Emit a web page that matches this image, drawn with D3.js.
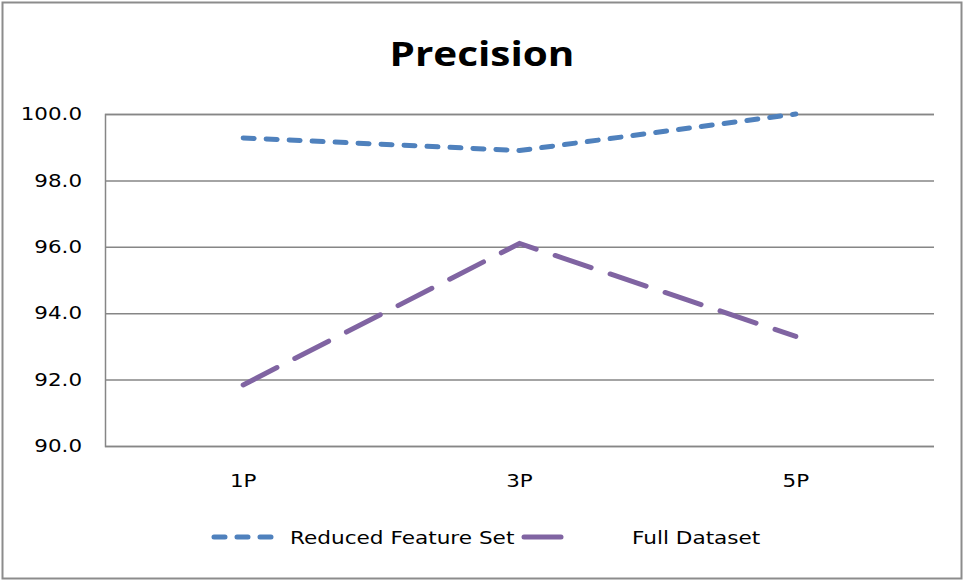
<!DOCTYPE html>
<html><head><meta charset="utf-8">
<script src="https://cdn.jsdelivr.net/npm/d3@7"></script>
<style>body{margin:0;background:#fff}svg{display:block}</style>
</head><body>
<svg id="c" width="964" height="581"></svg>
<script>
const categories = ["1P", "3P", "5P"];
const reducedFeatureSet = [99.28, 98.9, 100.0];
const fullDataset = [91.84, 96.1, 93.3];
const yTicks = [90, 92, 94, 96, 98, 100];
const seriesNames = ["Reduced Feature Set", "Full Dataset"];

const svg = d3.select("#c");
const W = 964, H = 581;
svg.append("rect").attr("x", 2.5).attr("y", 2.5).attr("width", W - 5).attr("height", H - 5)
  .attr("fill", "#fff").attr("stroke", "#8c8c8c").attr("stroke-width", 2);

const L = 105, R = 934, T = 114, B = 446;
const x = d3.scaleBand().domain(categories).range([L, R]);
const y = d3.scaleLinear().domain([90, 100]).range([B, T]);
const font = "'DejaVu Sans', Verdana, sans-serif";

// horizontally stretch text glyphs around their anchor
function widen(sel, k) {
  sel.each(function () {
    const t = d3.select(this);
    const x0 = +(t.attr("x") || 0);
    t.attr("x", x0 / k).attr("transform", `scale(${k},1)`);
  });
}

const title = svg.append("text").attr("x", 482).attr("y", 66).attr("text-anchor", "middle")
  .attr("font-family", "'Open Sans', sans-serif").attr("font-weight", "bold").attr("font-size", 34)
  .attr("fill", "#000").text("Precision");
widen(title, 1.19);

const yAxis = d3.axisLeft(y).tickValues(yTicks).tickFormat(d3.format(".1f")).tickSize(-(R - L)).tickPadding(23);
const gy = svg.append("g").attr("transform", `translate(${L},0)`).call(yAxis);
gy.select(".domain").attr("stroke", "#868686").attr("stroke-width", 1.5);
gy.selectAll(".tick line").attr("stroke", "#868686").attr("stroke-width", 1.5);
gy.selectAll(".tick text").attr("font-family", font).attr("font-size", 18).attr("fill", "#000");
widen(gy.selectAll(".tick text"), 1.19);

const xAxis = d3.axisBottom(x).tickSize(0).tickPadding(28);
const gx = svg.append("g").attr("transform", `translate(0,${B})`).call(xAxis);
gx.select(".domain").remove();
gx.selectAll(".tick text").attr("font-family", font).attr("font-size", 18).attr("fill", "#000");
widen(gx.selectAll(".tick text"), 1.19);

const line = d3.line().x((d, i) => x(categories[i]) + x.bandwidth() / 2).y(d => y(d));
svg.append("path").datum(fullDataset).attr("d", line).attr("fill", "none")
  .attr("stroke", "#8064A2").attr("stroke-width", 5).attr("stroke-linecap", "round")
  .attr("stroke-dasharray", "38,20");
svg.append("path").datum(reducedFeatureSet).attr("d", line).attr("fill", "none")
  .attr("stroke", "#4F81BD").attr("stroke-width", 5).attr("stroke-linecap", "round")
  .attr("stroke-dasharray", "11,12");

// legend
const lg = svg.append("g");
const ly = 537;
lg.append("line").attr("x1", 214).attr("x2", 273).attr("y1", ly).attr("y2", ly)
  .attr("stroke", "#4F81BD").attr("stroke-width", 5).attr("stroke-linecap", "round").attr("stroke-dasharray", "11,12");
const t1 = lg.append("text").attr("x", 290).attr("y", ly + 7).attr("font-family", font).attr("font-size", 18).text(seriesNames[0]);
lg.append("line").attr("x1", 524).attr("x2", 561).attr("y1", ly).attr("y2", ly)
  .attr("stroke", "#8064A2").attr("stroke-width", 5).attr("stroke-linecap", "round");
const t2 = lg.append("text").attr("x", 632).attr("y", ly + 7).attr("font-family", font).attr("font-size", 18).text(seriesNames[1]);
widen(t1, 1.2);
widen(t2, 1.2);
</script>
</body></html>
